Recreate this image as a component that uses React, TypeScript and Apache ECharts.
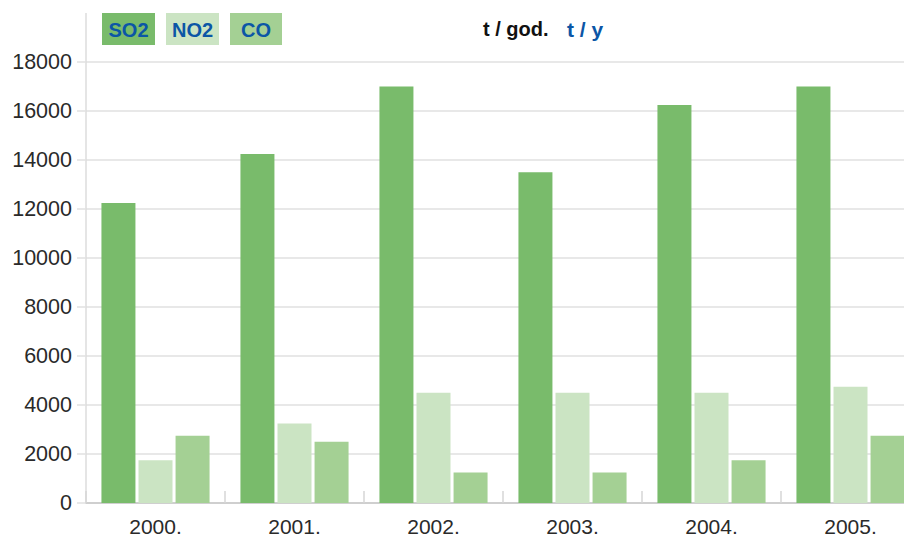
import React, { useEffect, useRef } from "react";
import * as echarts from "echarts";

const categories = ["2000.", "2001.", "2002.", "2003.", "2004.", "2005."];
const so2 = [12250, 14250, 17000, 13500, 16250, 17000];
const no2 = [1750, 3250, 4500, 4500, 4500, 4750];
const co = [2750, 2500, 1250, 1250, 1750, 2750];
const seriesNames = ["SO2", "NO2", "CO"];
const colors = ["#79bb6b", "#cbe4c3", "#a4d094"];

const FONT = "'Liberation Sans', Arial, sans-serif";

export default function App() {
  const ref = useRef<HTMLDivElement>(null);
  useEffect(() => {
    if (!ref.current) return;
    const chart = echarts.init(ref.current, undefined, { renderer: "svg" });
    const data = [so2, no2, co];
    const legendBoxes = [
      { x: 102, w: 53 },
      { x: 166, w: 53 },
      { x: 230, w: 52 },
    ];
    const graphic: any[] = [
      {
        type: "line",
        shape: { x1: 86, y1: 13, x2: 86, y2: 62 },
        style: { stroke: "#dcdcdc", lineWidth: 1.5 },
      },
    ];
    legendBoxes.forEach((b, i) => {
      graphic.push({
        type: "rect",
        shape: { x: b.x, y: 13, width: b.w, height: 32 },
        style: { fill: colors[i] },
      });
      graphic.push({
        type: "text",
        x: b.x + b.w / 2,
        y: 30,
        style: {
          text: seriesNames[i],
          fill: "#0b56a6",
          font: `bold 20px ${FONT}`,
          textAlign: "center",
          textVerticalAlign: "middle",
        },
      });
    });
    graphic.push({
      type: "text",
      x: 483,
      y: 29,
      style: {
        text: "t / god.",
        fill: "#111",
        font: `bold 20px ${FONT}`,
        textAlign: "left",
        textVerticalAlign: "middle",
      },
    });
    graphic.push({
      type: "text",
      x: 567,
      y: 29,
      style: {
        text: "t / y",
        fill: "#0b56a6",
        font: `bold 21px ${FONT}`,
        textAlign: "left",
        textVerticalAlign: "middle",
      },
    });

    chart.setOption({
      animation: false,
      grid: { left: 86, top: 62, width: 834, height: 441, containLabel: false },
      xAxis: {
        type: "category",
        data: categories,
        axisLine: { show: true, lineStyle: { color: "#cfcfcf", width: 2 } },
        axisTick: {
          show: true,
          inside: true,
          length: 12,
          lineStyle: { color: "#d6d6d6", width: 1.5 },
        },
        axisLabel: {
          color: "#2a2a2a",
          fontSize: 21,
          fontFamily: FONT,
          margin: 13,
        },
        splitLine: { show: false },
      },
      yAxis: {
        type: "value",
        min: 0,
        max: 18000,
        interval: 2000,
        axisLine: { show: true, lineStyle: { color: "#dcdcdc", width: 1.5 } },
        axisTick: {
          show: true,
          length: 9,
          lineStyle: { color: "#e0e0e0", width: 1.5 },
        },
        axisLabel: {
          color: "#2a2a2a",
          fontSize: 21.5,
          fontFamily: FONT,
          margin: 14,
          formatter: (v: number) => String(v),
        },
        splitLine: { show: true, lineStyle: { color: "#e0e0e0", width: 1.5 } },
      },
      series: seriesNames.map((name, i) => ({
        name,
        type: "bar",
        data: data[i],
        barWidth: 34,
        barGap: "9%",
        itemStyle: { color: colors[i] },
      })),
      graphic,
    });
    return () => chart.dispose();
  }, []);
  return (
    <div
      style={{
        position: "fixed",
        left: 0,
        top: 0,
        width: 904,
        height: 539,
        overflow: "hidden",
        background: "#fff",
      }}
    >
      <div ref={ref} style={{ width: 920, height: 539 }} />
    </div>
  );
}
